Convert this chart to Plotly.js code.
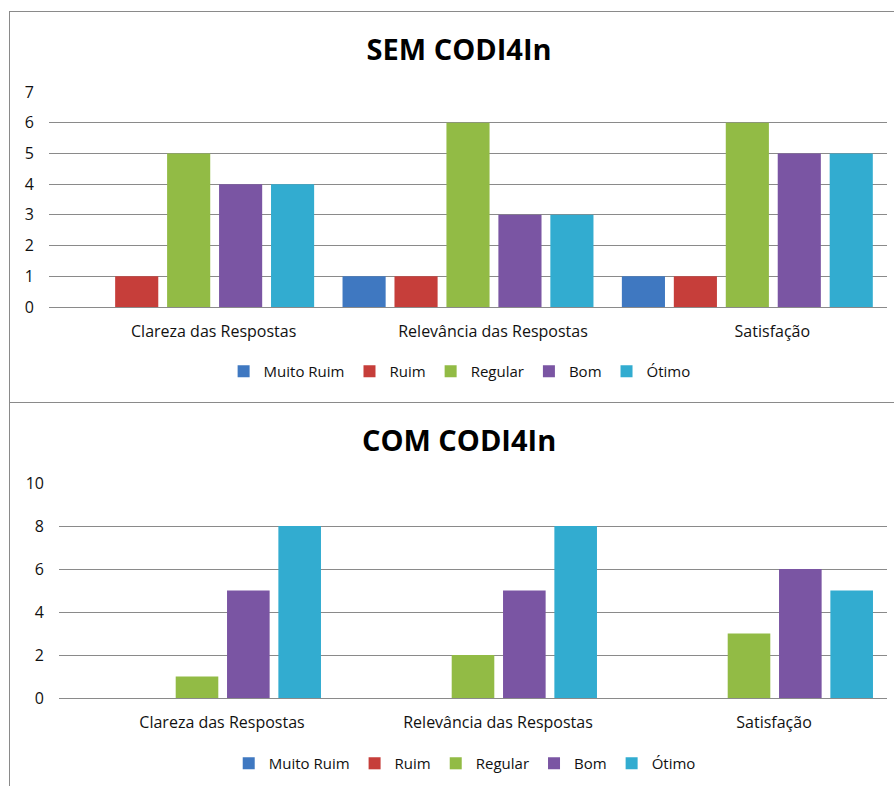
<!DOCTYPE html>
<html>
<head>
<meta charset="utf-8">
<script src="https://cdn.plot.ly/plotly-3.0.1.min.js"></script>
<style>
  html, body { margin: 0; padding: 0; background: #fff; overflow: hidden; width: 894px; height: 786px; }
  .box { position: absolute; left: 9px; width: 900px; border: 1px solid #8a8a8a; box-sizing: border-box; background: #fff; }
  #c1 { top: 11px; height: 392px; }
  #c2 { top: 402px; height: 400px; }
</style>
</head>
<body>
<div id="c1" class="box"><div id="p1"></div></div>
<div id="c2" class="box"><div id="p2"></div></div>
<script>
const categories = ["Clareza das Respostas", "Relevância das Respostas", "Satisfação"];
const seriesNames = ["Muito Ruim", "Ruim", "Regular", "Bom", "Ótimo"];
const colors = ["#3f78c1", "#c63e3a", "#92bb45", "#7a55a3", "#32acd0"];

// SEM CODI4In
const semMuitoRuim = [0, 1, 1];
const semRuim      = [1, 1, 1];
const semRegular   = [5, 6, 6];
const semBom       = [4, 3, 5];
const semOtimo     = [4, 3, 5];

// COM CODI4In
const comMuitoRuim = [0, 0, 0];
const comRuim      = [0, 0, 0];
const comRegular   = [1, 2, 3];
const comBom       = [5, 5, 6];
const comOtimo     = [8, 8, 5];

const FONT = "'Open Sans', sans-serif";

function traces(arrs) {
  return arrs.map((v, i) => ({
    type: "bar", name: seriesNames[i], x: categories, y: v,
    marker: { color: colors[i], line: { width: 0 } },
    hoverinfo: "x+y+name"
  }));
}

function layout(title, ymax, dtick, h, ml, legendY) {
  return {
    width: 884, height: h,
    margin: { l: ml, r: 7, t: 80, b: h - 295 },
    paper_bgcolor: "rgba(0,0,0,0)", plot_bgcolor: "rgba(0,0,0,0)",
    font: { family: FONT, size: 15, color: "#111" },
    title: { text: "<b>" + title + "</b>", font: { family: FONT, size: 29, color: "#000" },
             x: 0.508, xanchor: "center", y: 1 - 38 / h, yanchor: "middle" },
    barmode: "group", bargap: 0.07, bargroupgap: 0.17,
    showlegend: true,
    legend: { orientation: "h", x: 0.49, xanchor: "center", y: legendY, yanchor: "middle",
              font: { family: FONT, size: 15, color: "#111" }, traceorder: "normal" },
    xaxis: { showgrid: false, showline: false, zeroline: false, ticks: "", tickfont: { size: 16, color: "#111" },
             ticklabelshift: 25, ticklabelstandoff: 13 },
    yaxis: { range: [0, ymax], dtick: dtick, showgrid: true, gridcolor: "#8a8a8a", gridwidth: 1,
             zeroline: true, zerolinecolor: "#8a8a8a", zerolinewidth: 1, showline: false, ticks: "",
             tickfont: { size: 16, color: "#111" }, ticklabelstandoff: 14, fixedrange: true }
  };
}

Plotly.newPlot("p1",
  traces([semMuitoRuim, semRuim, semRegular, semBom, semOtimo]),
  layout("SEM CODI4In", 7, 1, 390, 39, -0.30),
  { displayModeBar: false, staticPlot: true });

Plotly.newPlot("p2",
  traces([comMuitoRuim, comRuim, comRegular, comBom, comOtimo]),
  layout("COM CODI4In", 10, 2, 390, 49, -0.305),
  { displayModeBar: false, staticPlot: true });
</script>
</body>
</html>
